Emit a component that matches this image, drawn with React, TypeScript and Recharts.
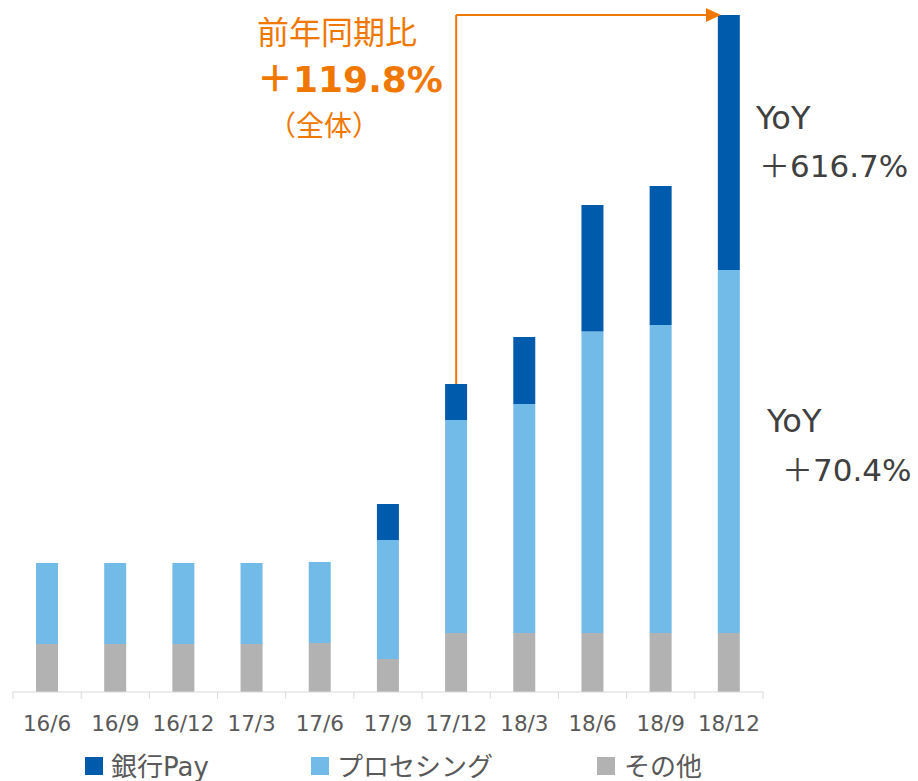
import React from 'react';
import { BarChart, Bar, XAxis, YAxis, ReferenceLine } from 'recharts';

const periods = ['16/6', '16/9', '16/12', '17/3', '17/6', '17/9', '17/12', '18/3', '18/6', '18/9', '18/12'];
const otherVals = [48, 48, 48, 48, 49, 33, 59, 59, 59, 59, 59];
const processingVals = [81, 81, 81, 81, 81, 119, 213, 229, 301.5, 308, 363];
const bankPayVals = [0, 0, 0, 0, 0, 36, 36, 67, 126.5, 139, 255];

const seriesNames = { bank: '銀行Pay', proc: 'プロセシング', other: 'その他' };
const yoyTotal = ['前年同期比', '＋119.8%', '（全体）'];
const yoyBank = ['YoY', '＋616.7%'];
const yoyProc = ['YoY', '＋70.4%'];

const data = periods.map((p, i) => ({
  period: p,
  other: otherVals[i],
  proc: processingVals[i],
  bank: bankPayVals[i],
  total: otherVals[i] + processingVals[i] + bankPayVals[i],
}));
const maxTotal = Math.max(...data.map((d) => d.total));

const C_BANK = '#005BAC';
const C_PROC = '#72BBE8';
const C_OTHER = '#B2B2B2';
const C_ORANGE = '#F07800';
const C_AXIS = '#D9D9D9';
const C_TEXT = '#595959';

const W = 918;
const H = 781;
const M = { top: 15, right: 155, left: 13, bottom: 59 };
const PLOT_W = W - M.left - M.right;
const HALF = PLOT_W / periods.length / 2;

const FONT = '"DejaVu Sans", "Noto Sans CJK JP", sans-serif';

const CatTick = (props: any) => {
  const { x, y, payload, index } = props;
  const y0 = y - 7;
  return (
    <g>
      <line x1={x - HALF} x2={x - HALF} y1={y0} y2={y0 + 7} stroke={C_AXIS} strokeWidth={1} />
      {index === periods.length - 1 && (
        <line x1={x + HALF} x2={x + HALF} y1={y0} y2={y0 + 7} stroke={C_AXIS} strokeWidth={1} />
      )}
      <text x={x} y={y0 + 31} textAnchor="middle" dominantBaseline="central" fill={C_TEXT} fontSize={21.5} fontFamily={FONT}>
        {payload.value}
      </text>
    </g>
  );
};

const ArrowShape = (props: any) => {
  const { x1, y1, x2 } = props;
  const tip = x2 - 8;
  return (
    <g>
      <line x1={x1} y1={y1} x2={tip - 14} y2={y1} stroke={C_ORANGE} strokeWidth={2} />
      <polygon points={`${tip},${y1} ${tip - 15},${y1 - 7} ${tip - 15},${y1 + 7}`} fill={C_ORANGE} />
    </g>
  );
};

const legendItems = [
  { name: seriesNames.bank, color: C_BANK, sq: 85, tx: 111 },
  { name: seriesNames.proc, color: C_PROC, sq: 311, tx: 337 },
  { name: seriesNames.other, color: C_OTHER, sq: 597, tx: 624 },
];

export default function App() {
  return (
    <div style={{ position: 'absolute', left: 0, top: 0, width: W, height: H, background: '#fff' }}>
      <BarChart width={W} height={H} data={data} margin={M} barSize={22}>
        <XAxis
          dataKey="period"
          interval={0}
          axisLine={{ stroke: C_AXIS }}
          tickLine={false}
          tickSize={7}
          tickMargin={0}
          height={30}
          tick={<CatTick />}
        />
        <YAxis hide domain={[0, maxTotal]} />
        <Bar dataKey="other" stackId="a" fill={C_OTHER} isAnimationActive={false} name={seriesNames.other} />
        <Bar dataKey="proc" stackId="a" fill={C_PROC} isAnimationActive={false} name={seriesNames.proc} />
        <Bar dataKey="bank" stackId="a" fill={C_BANK} isAnimationActive={false} name={seriesNames.bank} />
        <ReferenceLine
          segment={[
            { x: '17/12', y: data[6].total },
            { x: '17/12', y: maxTotal },
          ]}
          stroke={C_ORANGE}
          strokeWidth={2}
          ifOverflow="visible"
        />
        <ReferenceLine
          segment={[
            { x: '17/12', y: maxTotal },
            { x: '18/12', y: maxTotal },
          ]}
          ifOverflow="visible"
          shape={<ArrowShape />}
        />
      </BarChart>
      <svg width={W} height={H} style={{ position: 'absolute', left: 0, top: 0, pointerEvents: 'none' }}>
        <text x={257} y={33} dominantBaseline="central" fill={C_ORANGE} fontSize={32} fontFamily={FONT}>{yoyTotal[0]}</text>
        <text x={257} y={79} dominantBaseline="central" fill={C_ORANGE} fontSize={36} fontWeight="bold" fontFamily={FONT}>{yoyTotal[1]}</text>
        <text x={268} y={126} dominantBaseline="central" fill={C_ORANGE} fontSize={28} fontFamily={FONT}>{yoyTotal[2]}</text>
        <text x={756} y={118} dominantBaseline="central" fill="#404040" fontSize={32} fontFamily={FONT}>{yoyBank[0]}</text>
        <text x={759} y={166} dominantBaseline="central" fill="#404040" fontSize={31} fontFamily={FONT}>{yoyBank[1]}</text>
        <text x={767} y={421} dominantBaseline="central" fill="#404040" fontSize={32} fontFamily={FONT}>{yoyProc[0]}</text>
        <text x={782} y={470} dominantBaseline="central" fill="#404040" fontSize={31} fontFamily={FONT}>{yoyProc[1]}</text>
        {legendItems.map((it) => (
          <g key={it.name}>
            <rect x={it.sq} y={757} width={18} height={18} fill={it.color} />
            <text x={it.tx} y={767} dominantBaseline="central" fill={C_TEXT} fontSize={26} fontFamily={FONT}>{it.name}</text>
          </g>
        ))}
      </svg>
    </div>
  );
}
